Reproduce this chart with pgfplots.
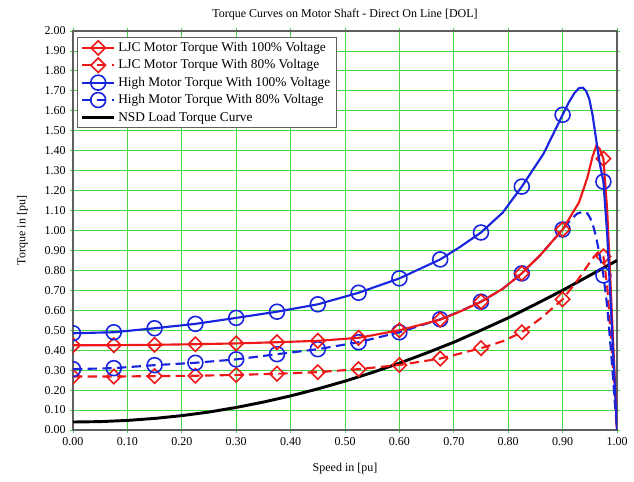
\documentclass[border=0pt]{standalone}
\usepackage{fontspec}
\setmainfont{Liberation Serif}
\usepackage{pgfplots}
\pgfplotsset{compat=1.18}

\definecolor{ljcred}{RGB}{238,24,24}
\definecolor{hmblue}{RGB}{24,36,222}
\definecolor{gridgreen}{RGB}{70,215,70}
\definecolor{framegray}{RGB}{95,95,95}

\tikzset{
  ljcmark/.style={mark=square, mark size=3.8pt, mark options={solid, rotate=45, line width=1.2pt, fill=none}},
  hmmark/.style={mark=o, mark size=5.6pt, mark options={solid, line width=1.2pt, fill=none}},
  dashline/.style={dash pattern=on 7pt off 4pt},
}

\begin{document}
\begin{tikzpicture}
\begin{axis}[
  scale only axis,
  width=408pt, height=299.25pt,
  xmin=0, xmax=1, ymin=0, ymax=2,
  xtick={0,0.1,0.2,0.3,0.4,0.5,0.6,0.7,0.8,0.9,1.0},
  ytick={0,0.1,0.2,0.3,0.4,0.5,0.6,0.7,0.8,0.9,1.0,1.1,1.2,1.3,1.4,1.5,1.6,1.7,1.8,1.9,2.0},
  /pgf/number format/assume math mode=true,
  /pgf/number format/fixed,
  /pgf/number format/fixed zerofill,
  /pgf/number format/precision=2,
  grid=major,
  major grid style={gridgreen, line width=0.6pt},
  axis line style={framegray, line width=0.9pt},
  tick style={gridgreen, line width=0.6pt},
  tick align=outside, major tick length=2pt,
  tick label style={font=\fontsize{9}{10}\selectfont},
  label style={font=\fontsize{9}{10}\selectfont},
  title style={font=\fontsize{9}{10}\selectfont},
  title={Torque Curves on Motor Shaft - Direct On Line [DOL]},
  title style={at={(axis description cs:0.5,1)}, anchor=center, yshift=6pt},
  xlabel={Speed in [pu]},
  xlabel style={at={(axis description cs:0.5,-0.097)}, anchor=center},
  ylabel={Torque in [pu]},
  ylabel style={at={(axis description cs:-0.093,0.5)}, anchor=center},
  clip marker paths=true,
  legend style={at={(0.007,0.985)}, anchor=north west,
    font=\fontsize{10}{12}\selectfont, draw=framegray, line width=0.9pt,
    fill=white, inner xsep=2.5pt, inner ysep=1.5pt, row sep=0.6pt, cells={anchor=west}},
  legend image code/.code={\draw[mark repeat=2, mark phase=2] plot coordinates {(0pt,0pt) (12pt,0pt) (24pt,0pt)};},
]

% NSD load torque curve
\addplot[black, line width=2.2pt, forget plot] coordinates {
  (0,0.040) (0.05,0.042) (0.10,0.048) (0.15,0.058) (0.20,0.072) (0.25,0.090)
  (0.30,0.113) (0.35,0.140) (0.40,0.171) (0.45,0.206) (0.50,0.245) (0.55,0.288)
  (0.60,0.335) (0.65,0.386) (0.70,0.440) (0.75,0.500) (0.80,0.562) (0.85,0.630)
  (0.90,0.700) (0.95,0.775) (1.00,0.850)};

% LJC motor, 80% voltage
\addplot[ljcred, line width=1.6pt, dashline, forget plot] coordinates {
  (0,0.268) (0.075,0.268) (0.15,0.270) (0.225,0.272) (0.30,0.276) (0.375,0.282)
  (0.45,0.290) (0.525,0.305) (0.60,0.326) (0.675,0.358) (0.75,0.410) (0.79,0.445)
  (0.825,0.490) (0.86,0.560) (0.90,0.655) (0.93,0.760) (0.955,0.860) (0.965,0.890)
  (0.975,0.870) (0.982,0.720) (0.990,0.420) (0.996,0.170) (1.0,0)};
\addplot[ljcred, only marks, ljcmark, forget plot] coordinates {
  (0,0.268) (0.075,0.268) (0.15,0.270) (0.225,0.272) (0.30,0.276) (0.375,0.282)
  (0.45,0.290) (0.525,0.305) (0.60,0.326) (0.675,0.358) (0.75,0.410) (0.825,0.490)
  (0.90,0.655) (0.975,0.870)};

% High torque motor, 80% voltage
\addplot[hmblue, line width=1.6pt, dashline, forget plot] coordinates {
  (0,0.305) (0.075,0.310) (0.15,0.325) (0.225,0.337) (0.30,0.354) (0.375,0.380)
  (0.45,0.405) (0.525,0.440) (0.60,0.490) (0.675,0.555) (0.71,0.593) (0.75,0.643)
  (0.79,0.708) (0.825,0.785) (0.86,0.880) (0.90,1.005) (0.915,1.055) (0.927,1.085)
  (0.937,1.094) (0.946,1.085) (0.954,1.045) (0.961,0.975) (0.968,0.880)
  (0.975,0.775) (0.982,0.620) (0.990,0.360) (0.996,0.140) (1.0,0)};
\addplot[hmblue, only marks, hmmark, forget plot] coordinates {
  (0,0.305) (0.075,0.310) (0.15,0.325) (0.225,0.337) (0.30,0.354) (0.375,0.380)
  (0.45,0.405) (0.525,0.440) (0.60,0.490) (0.675,0.555) (0.75,0.643) (0.825,0.785)
  (0.90,1.005) (0.975,0.775)};

% LJC motor, 100% voltage
\addplot[ljcred, line width=1.6pt, forget plot] coordinates {
  (0,0.425) (0.075,0.425) (0.15,0.427) (0.225,0.430) (0.30,0.434) (0.375,0.440)
  (0.45,0.447) (0.525,0.462) (0.60,0.500) (0.675,0.553) (0.71,0.592) (0.75,0.643)
  (0.79,0.708) (0.825,0.785) (0.86,0.880) (0.90,1.005) (0.93,1.140) (0.945,1.260)
  (0.955,1.370) (0.962,1.425) (0.968,1.410) (0.975,1.360) (0.982,1.100)
  (0.990,0.620) (0.996,0.250) (1.0,0)};
\addplot[ljcred, only marks, ljcmark, forget plot] coordinates {
  (0,0.425) (0.075,0.425) (0.15,0.427) (0.225,0.430) (0.30,0.434) (0.375,0.440)
  (0.45,0.447) (0.525,0.462) (0.60,0.500) (0.675,0.553) (0.75,0.643) (0.825,0.785)
  (0.90,1.005) (0.975,1.360)};

% High torque motor, 100% voltage
\addplot[hmblue, line width=1.6pt, forget plot] coordinates {
  (0,0.485) (0.075,0.490) (0.15,0.510) (0.225,0.532) (0.30,0.562) (0.375,0.593)
  (0.45,0.630) (0.525,0.688) (0.60,0.760) (0.675,0.855) (0.71,0.915) (0.75,0.990)
  (0.79,1.090) (0.825,1.220) (0.865,1.385) (0.90,1.580) (0.912,1.645) (0.922,1.690)
  (0.930,1.713) (0.937,1.716) (0.943,1.700) (0.949,1.660) (0.955,1.580)
  (0.962,1.450) (0.968,1.340) (0.975,1.245) (0.982,0.980) (0.990,0.550)
  (0.996,0.220) (1.0,0)};
\addplot[hmblue, only marks, hmmark, forget plot] coordinates {
  (0,0.485) (0.075,0.490) (0.15,0.510) (0.225,0.532) (0.30,0.562) (0.375,0.593)
  (0.45,0.630) (0.525,0.688) (0.60,0.760) (0.675,0.855) (0.75,0.990) (0.825,1.220)
  (0.90,1.580) (0.975,1.245)};

\addlegendimage{ljcred, line width=1.6pt, ljcmark}
\addlegendentry{LJC Motor Torque With 100\% Voltage}
\addlegendimage{ljcred, line width=1.6pt, dashline, ljcmark}
\addlegendentry{LJC Motor Torque With 80\% Voltage}
\addlegendimage{hmblue, line width=1.6pt, hmmark}
\addlegendentry{High Motor Torque With 100\% Voltage}
\addlegendimage{hmblue, line width=1.6pt, dashline, hmmark}
\addlegendentry{High Motor Torque With 80\% Voltage}
\addlegendimage{black, line width=2.2pt}
\addlegendentry{NSD Load Torque Curve}
\end{axis}
\pgfresetboundingbox
\path[use as bounding box]
  ([shift={(-54.75pt,-38.25pt)}]current axis.south west)
  rectangle ([shift={(12.75pt,23.25pt)}]current axis.north east);
\end{tikzpicture}
\end{document}
